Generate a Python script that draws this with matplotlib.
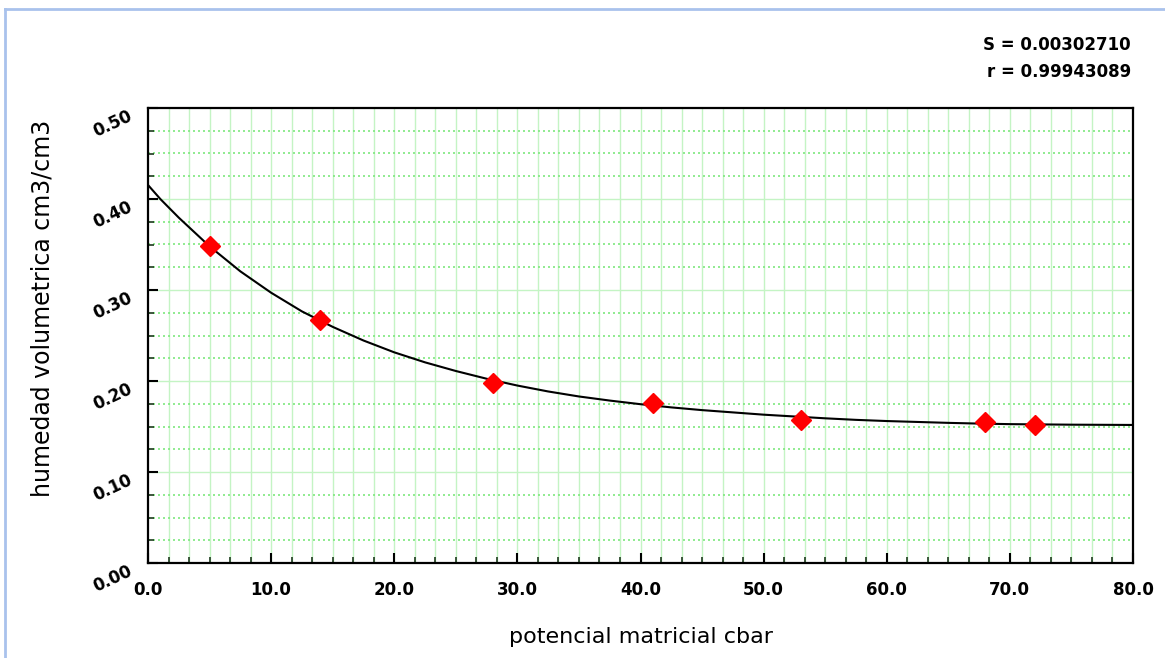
import matplotlib
matplotlib.use("Agg")
import matplotlib.pyplot as plt
import matplotlib.transforms as mtransforms
from matplotlib.lines import Line2D
from matplotlib.ticker import MultipleLocator, FixedLocator
import numpy as np

# ---- data ----
obs_x = [5, 14, 28, 41, 53, 68, 72]
obs_y = [0.348, 0.267, 0.198, 0.176, 0.157, 0.155, 0.152]

fit_x = [0.0, 1.0, 2.5, 5.0, 7.5, 10.0, 12.5, 15.0, 17.5, 20.0, 22.5, 25.0, 27.5,
         30.0, 32.5, 35.0, 37.5, 40.0, 42.5, 45.0, 47.5, 50.0, 52.5, 55.0, 57.5,
         60.0, 62.5, 65.0, 67.5, 70.0, 75.0, 80.0]
fit_y = [0.4154, 0.4000, 0.3795, 0.3480, 0.3205, 0.2970, 0.2765, 0.2595, 0.2445,
         0.2315, 0.2205, 0.2110, 0.2025, 0.1950, 0.1885, 0.1830, 0.1785, 0.1745,
         0.1710, 0.1680, 0.1655, 0.1630, 0.1610, 0.1590, 0.1573, 0.1560, 0.1550,
         0.1540, 0.1532, 0.1526, 0.1520, 0.1517]

x_major = [0, 10, 20, 30, 40, 50, 60, 70, 80]
x_labels = ["0.0", "10.0", "20.0", "30.0", "40.0", "50.0", "60.0", "70.0", "80.0"]
y_major = [0.0, 0.1, 0.2, 0.3, 0.4, 0.5]
y_labels = ["0.00", "0.10", "0.20", "0.30", "0.40", "0.50"]

stat_lines = ["S = 0.00302710", "r = 0.99943089"]

W, H = 1165, 658
fig = plt.figure(figsize=(W / 100, H / 100), dpi=100)
fig.patch.set_facecolor("white")

L, R, T, B = 148, 1133, 108, 563
ax = fig.add_axes([L / W, 1 - B / H, (R - L) / W, (B - T) / H])
ax.set_xlim(0, 80)
ax.set_ylim(0, 0.5)

# grid
xminor = np.arange(0, 80.001, 10 / 6)
for xv in xminor[1:-1]:
    ax.axvline(xv, color="#c4f4c4", lw=1.0, zorder=0)
for yv in np.arange(0.025, 0.5, 0.025):
    if abs(round(yv / 0.1) * 0.1 - yv) < 1e-6:
        ax.axhline(yv, color="#c4f4c4", lw=1.0, zorder=0)
    else:
        ax.axhline(yv, color="#7ee87e", lw=1.2, ls=(0, (1.2, 1.8)), zorder=0)

# ticks
ax.xaxis.set_major_locator(FixedLocator(x_major))
ax.xaxis.set_minor_locator(FixedLocator(list(xminor)))
ax.yaxis.set_major_locator(FixedLocator(y_major))
ax.yaxis.set_minor_locator(MultipleLocator(0.025))
ax.tick_params(axis="both", which="major", direction="in", length=7, width=1.5, color="black")
ax.tick_params(axis="both", which="minor", direction="in", length=4, width=1.2, color="#1e3a1e")
ax.tick_params(axis="x", which="major", pad=13)
ax.tick_params(axis="y", which="major", pad=12)
ax.tick_params(top=False, right=False, which="both")
ax.set_xticklabels(x_labels, fontsize=12, fontweight="bold", family="DejaVu Sans")
ax.set_yticklabels(y_labels, fontsize=12, fontweight="bold", family="DejaVu Sans")

offset = mtransforms.ScaledTranslation(0, -7 / 100, fig.dpi_scale_trans)
for lab in ax.get_yticklabels():
    lab.set_rotation(25)
    lab.set_rotation_mode("anchor")
    lab.set_ha("right")
    lab.set_va("center")
    lab.set_transform(lab.get_transform() + offset)

for sp in ax.spines.values():
    sp.set_linewidth(1.6)
    sp.set_color("black")

# data
ax.plot(fit_x, fit_y, color="black", lw=1.5, zorder=3)
ax.plot(obs_x, obs_y, ls="none", marker="D", markersize=10, color="#ff0000",
        markeredgecolor="#ff0000", zorder=4)

# labels
fig.text(641 / W, 1 - 637 / H, "potencial matricial cbar", ha="center", va="center",
         fontsize=16, family="DejaVu Sans")
fig.text(43 / W, 1 - 308 / H, "humedad volumetrica cm3/cm3", ha="center", va="center",
         rotation=90, fontsize=17, family="DejaVu Sans")

fig.text(1131 / W, 1 - 45 / H, stat_lines[0], ha="right", va="center",
         fontsize=12, fontweight="bold", family="DejaVu Sans")
fig.text(1131 / W, 1 - 72 / H, stat_lines[1], ha="right", va="center",
         fontsize=12, fontweight="bold", family="DejaVu Sans")

# frame border
bc = "#a9c2ec"
fig.add_artist(Line2D([4.5 / W, 4.5 / W], [0, 1 - 9 / H], color=bc, lw=2, transform=fig.transFigure))
fig.add_artist(Line2D([4.5 / W, 1], [1 - 9 / H, 1 - 9 / H], color=bc, lw=2, transform=fig.transFigure))

fig.savefig("out.png", dpi=100)
